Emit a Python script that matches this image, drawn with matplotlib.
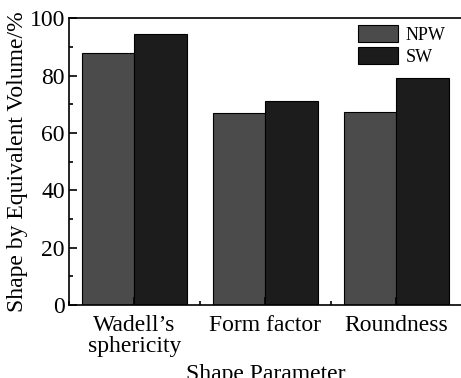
import numpy as np
import matplotlib
matplotlib.use('Agg')
import matplotlib.pyplot as plt
from matplotlib.ticker import MultipleLocator

# --- data ---
categories = ['Wadell\u2019s\nsphericity', 'Form factor', 'Roundness']
npw_values = [87.8, 66.8, 67.3]
sw_values = [94.5, 71.2, 79.1]

plt.rcParams['font.family'] = ['Liberation Serif', 'DejaVu Serif']

fig = plt.figure(figsize=(4.61, 3.78), dpi=100)
ax = fig.add_axes([0.1497, 0.193, 0.852, 0.759])

x = np.arange(len(categories))
w = 0.4
ax.bar(x - w / 2, npw_values, w, color='#4b4b4b', edgecolor='black', linewidth=0.8, label='NPW')
ax.bar(x + w / 2, sw_values, w, color='#1c1c1c', edgecolor='black', linewidth=0.8, label='SW')

ax.set_xlim(-0.5, 2.5)
ax.set_ylim(0, 100)
ax.set_xticks(x)
ax.set_xticklabels(categories, fontsize=17, linespacing=1.0)
ax.xaxis.set_minor_locator(MultipleLocator(0.5))
ax.yaxis.set_major_locator(MultipleLocator(20))
ax.yaxis.set_minor_locator(MultipleLocator(10))
ax.tick_params(axis='both', which='major', direction='in', length=6, width=1.2, labelsize=17, pad=3)
ax.tick_params(axis='x', which='major', pad=7)
ax.tick_params(axis='both', which='minor', direction='in', length=3, width=1.2)
for s in ax.spines.values():
    s.set_linewidth(1.2)

ax.set_xlabel('Shape Parameter', fontsize=17, labelpad=5)
ax.set_ylabel('Shape by Equivalent Volume/%', fontsize=17, labelpad=1)

ax.legend(loc='upper left', bbox_to_anchor=(0.737, 0.975), frameon=False, fontsize=13,
          handlelength=2.2, handleheight=1.05, handletextpad=0.4, labelspacing=0.2,
          borderaxespad=0, borderpad=0)

fig.savefig('out.png', dpi=100)
